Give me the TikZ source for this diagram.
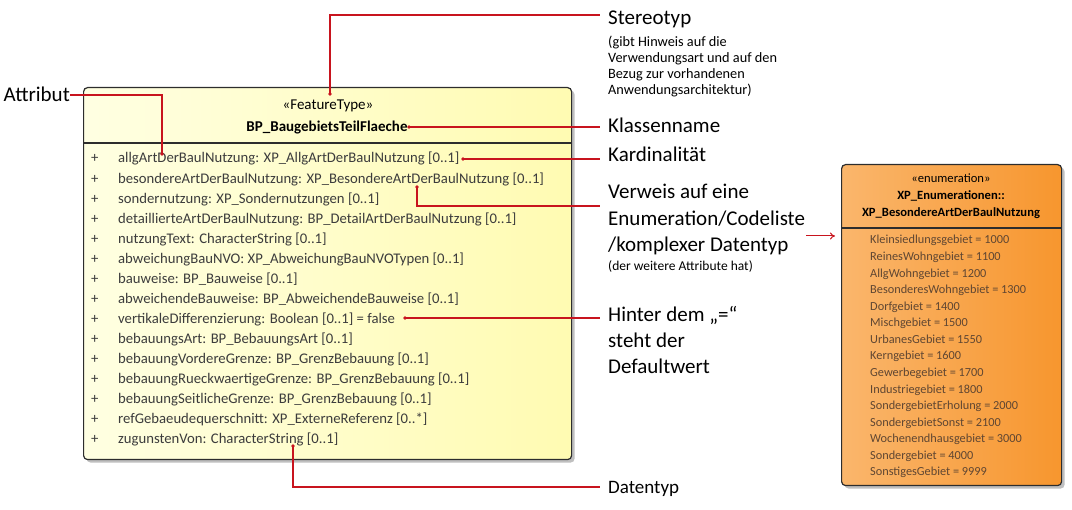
\documentclass[tikz,border=0pt]{standalone}
\usepackage{fontspec}
\setmainfont{Carlito}
\usetikzlibrary{shadows,calc,arrows.meta}
\definecolor{cred}{RGB}{200,20,30}
\definecolor{ytxt}{RGB}{60,60,60}
\definecolor{otxt}{RGB}{95,70,50}
\definecolor{yl}{RGB}{255,255,226}
\definecolor{yr}{RGB}{255,251,178}
\definecolor{ol}{RGB}{250,182,108}
\definecolor{orr}{RGB}{247,150,46}
\definecolor{bord}{RGB}{45,45,45}
\begin{document}
\begin{tikzpicture}[x=1pt,y=1pt,
  umlbox/.style={draw=bord, line width=1.2pt, rounded corners=4pt, inner sep=0pt,
    drop shadow={shadow xshift=3pt,shadow yshift=-3pt,opacity=0.25,fill=black}},
  sep/.style={draw=bord, line width=1.2pt},
  hdr/.style={anchor=base, inner sep=0pt, font=\fontsize{15}{17}\selectfont, text=black},
  attr/.style={anchor=base west, inner sep=0pt, font=\fontsize{14.7}{17}\selectfont, text=ytxt},
  ehdr/.style={anchor=base, inner sep=0pt, font=\fontsize{12.6}{15}\selectfont, text=black},
  eitem/.style={anchor=base west, inner sep=0pt, font=\fontsize{12.3}{14}\selectfont, text=otxt},
  big/.style={anchor=base west, inner sep=0pt, font=\fontsize{21}{25}\selectfont, text=black},
  small/.style={anchor=base west, inner sep=0pt, font=\fontsize{14.3}{16}\selectfont, text=black},
  mid/.style={anchor=base west, inner sep=0pt, font=\fontsize{19}{23}\selectfont, text=black},
  conn/.style={draw=cred, line width=1.3pt},
  dot/.style={fill=cred}
]
\useasboundingbox (0,0) rectangle (1072,-510);

% ---- main class box
\node[umlbox, left color=yl, right color=yr, minimum width=488pt, minimum height=372pt, anchor=north west] (cls) at (83,-87) {};
\draw[sep] (cls.west |- 0,-143) -- (cls.east |- 0,-143);
\node[hdr] (st) at (328,-110) {«FeatureType»};
\node[hdr, font=\fontsize{15}{17}\selectfont\bfseries] (cn) at (327,-131.5) {BP\_BaugebietsTeilFlaeche};

\foreach \i/\t in {0/{allgArtDerBaulNutzung: XP\_AllgArtDerBaulNutzung [0..1]},
  1/{besondereArtDerBaulNutzung: XP\_BesondereArtDerBaulNutzung [0..1]},
  2/{sondernutzung: XP\_Sondernutzungen [0..1]},
  3/{detaillierteArtDerBaulNutzung: BP\_DetailArtDerBaulNutzung [0..1]},
  4/{nutzungText: CharacterString [0..1]},
  5/{abweichungBauNVO: XP\_AbweichungBauNVOTypen [0..1]},
  6/{bauweise: BP\_Bauweise [0..1]},
  7/{abweichendeBauweise: BP\_AbweichendeBauweise [0..1]},
  8/{vertikaleDifferenzierung: Boolean [0..1] = false},
  9/{bebauungsArt: BP\_BebauungsArt [0..1]},
  10/{bebauungVordereGrenze: BP\_GrenzBebauung [0..1]},
  11/{bebauungRueckwaertigeGrenze: BP\_GrenzBebauung [0..1]},
  12/{bebauungSeitlicheGrenze: BP\_GrenzBebauung [0..1]},
  13/{refGebaeudequerschnitt: XP\_ExterneReferenz [0..*]},
  14/{zugunstenVon: CharacterString [0..1]}}
{
  \node[attr] (p\i) at (91,{-163-20.07*\i}) {+};
  \node[attr] (a\i) at (118,{-163-20.07*\i}) {\t};
}

% ---- enumeration box
\node[umlbox, left color=ol, right color=orr, minimum width=220pt, minimum height=321pt, anchor=north west] (enum) at (841,-164) {};
\draw[sep] (enum.west |- 0,-228) -- (enum.east |- 0,-228);
\node[ehdr] (e0) at (951,-183) {«enumeration»};
\node[ehdr, font=\fontsize{12.6}{15}\selectfont\bfseries] (e1) at (951,-200) {XP\_Enumerationen::};
\node[ehdr, font=\fontsize{12.6}{15}\selectfont\bfseries] (e2) at (951,-216.5) {XP\_BesondereArtDerBaulNutzung};
\foreach \i/\t in {0/{Kleinsiedlungsgebiet = 1000},1/{ReinesWohngebiet = 1100},2/{AllgWohngebiet = 1200},
  3/{BesonderesWohngebiet = 1300},4/{Dorfgebiet = 1400},5/{Mischgebiet = 1500},6/{UrbanesGebiet = 1550},
  7/{Kerngebiet = 1600},8/{Gewerbegebiet = 1700},9/{Industriegebiet = 1800},10/{SondergebietErholung = 2000},
  11/{SondergebietSonst = 2100},12/{Wochenendhausgebiet = 3000},13/{Sondergebiet = 4000},14/{SonstigesGebiet = 9999}}
{
  \node[eitem] (i\i) at (870,{-244-16.57*\i}) {\t};
}

% ---- labels
\node[big, anchor=base east] (tAttr) at (70,-101.5) {Attribut};
\node[big] (tStereo) at (608,-24.5) {Stereotyp};
\node[small] (s1) at (608,-47) {(gibt Hinweis auf die};
\node[small] (s2) at (608,-63) {Verwendungsart und auf den};
\node[small] (s3) at (608,-79) {Bezug zur vorhandenen};
\node[small] (s4) at (608,-95) {Anwendungsarchitektur)};
\node[big] (tKlasse) at (608,-132.5) {Klassenname};
\node[big] (tKard) at (608,-161.5) {Kardinalität};
\node[big] (v1) at (608,-198.5) {Verweis auf eine};
\node[big] (v2) at (608,-225.5) {Enumeration/Codeliste};
\node[big] (v3) at (608,-251.5) {/komplexer Datentyp};
\node[small, font=\fontsize{13.5}{15}\selectfont] (v4) at (608,-270.5) {(der weitere Attribute hat)};
\node[big] (h1) at (608,-321.5) {Hinter dem „=“};
\node[big] (h2) at (608,-347.5) {steht der};
\node[big] (h3) at (608,-373.5) {Defaultwert};
\node[mid] (tDat) at (608,-494) {Datentyp};

% ---- anchor points
\coordinate (dAttr) at (162,-154);
\coordinate (dStereo) at (330,-94);
\coordinate (dKlasse) at (409,-127);
\coordinate (dKard) at (463,-159);
\coordinate (dVerw) at (417,-187);
\coordinate (dDef) at (405,-318);
\coordinate (dDat) at (293,-446);
\coordinate (eStereo) at (600,-15);
\coordinate (eVerw) at (600,-206);
\coordinate (eDat) at (600,-487);
\coordinate (aStart) at (806,-236);

% ---- connectors
\draw[conn] (tAttr.east |- 0,-95) -| (dAttr);
\draw[conn] (dStereo) |- (eStereo);
\draw[conn] (dKlasse) -- (dKlasse -| eStereo);
\draw[conn] (dKard) -- (dKard -| eStereo);
\draw[conn] (dVerw) |- (eVerw);
\draw[conn] (dDef) -- (dDef -| eStereo);
\draw[conn] (dDat) |- (eDat);
\draw[draw=cred, line width=1pt, -{To[length=5pt,width=7pt]}] (aStart) -- ($(enum.west |- aStart)+(-6,0)$);
\foreach \d in {dAttr,dStereo,dKlasse,dKard,dVerw,dDef,dDat}
  \fill[dot] (\d) circle (1.9);
\end{tikzpicture}
\end{document}
